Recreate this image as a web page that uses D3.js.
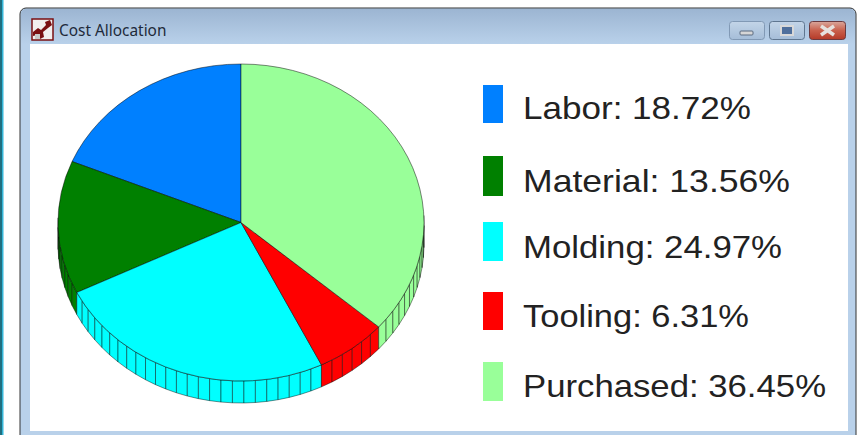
<!DOCTYPE html>
<html>
<head>
<meta charset="utf-8">
<script src="https://cdn.jsdelivr.net/npm/d3@7"></script>
<style>
html, body { margin: 0; padding: 0; background: #fff; overflow: hidden; }
svg { display: block; }
</style>
</head>
<body>
<svg></svg>
<script>
var w = 858;
var h = 435;

var svg = d3.select("svg")
            .attr("width", w)
            .attr("height", h);

// chart data
var categories = ["Labor", "Material", "Molding", "Tooling", "Purchased"];
var shares = [18.72, 13.56, 24.97, 6.31, 36.45];
var sliceColors = ["#0080ff", "#008000", "#00ffff", "#ff0000", "#99ff99"];
var windowTitle = "Cost Allocation";

// the legend rows are not evenly spaced in the original
var legendTop = [85, 156, 222, 292, 362];
var legendBottom = [123, 196, 261, 330, 401];
var legendBaseline = [119, 192, 258, 327, 397];
// text in the original is stretched a bit wider than Liberation Sans
var legendTextWidth = [228, 267, 259, 226, 303];

// ---- window frame ----
var defs = svg.append("defs");
var titleGrad = defs.append("linearGradient")
    .attr("id", "title-gradient")
    .attr("x1", "0%").attr("y1", "0%")
    .attr("x2", "0%").attr("y2", "100%");
titleGrad.append("stop").attr("offset", "0%").attr("stop-color", "#9cb5d2");
titleGrad.append("stop").attr("offset", "100%").attr("stop-color", "#b9d1ea");

var closeGrad = defs.append("linearGradient")
    .attr("id", "close-gradient")
    .attr("x1", "0%").attr("y1", "0%")
    .attr("x2", "0%").attr("y2", "100%");
closeGrad.append("stop").attr("offset", "0%").attr("stop-color", "#d9a79c");
closeGrad.append("stop").attr("offset", "50%").attr("stop-color", "#c9604c");
closeGrad.append("stop").attr("offset", "100%").attr("stop-color", "#b53a28");

var btnGrad = defs.append("linearGradient")
    .attr("id", "btn-gradient")
    .attr("x1", "0%").attr("y1", "0%")
    .attr("x2", "0%").attr("y2", "100%");
btnGrad.append("stop").attr("offset", "0%").attr("stop-color", "#c3d5e8");
btnGrad.append("stop").attr("offset", "100%").attr("stop-color", "#a5bdd8");

// bit of the desktop left of the window
svg.append("rect").attr("x", 0).attr("y", 0).attr("width", 2).attr("height", h).attr("fill", "#1f6f80");
svg.append("rect").attr("x", 2).attr("y", 0).attr("width", 1.5).attr("height", h).attr("fill", "#35b6d8");

svg.append("rect")
    .attr("x", 20).attr("y", 8)
    .attr("width", 836).attr("height", 440)
    .attr("rx", 6)
    .attr("fill", "#b9d1ea")
    .attr("stroke", "#333")
    .attr("stroke-width", 1);
svg.append("path")
    .attr("d", "M21,14 Q21,9 26,9 H850 Q855,9 855,14 V44 H21 Z")
    .attr("fill", "url(#title-gradient)");
svg.append("rect")
    .attr("x", 30).attr("y", 44)
    .attr("width", 818).attr("height", 387)
    .attr("fill", "#fff");

// app icon
var icon = svg.append("g").attr("transform", "translate(32,19)");
icon.append("rect").attr("width", 21).attr("height", 21).attr("fill", "#f2eeee").attr("stroke", "#7a0f12").attr("stroke-width", 1.5);
icon.append("path")
    .attr("d", "M1,13 L6,9 L9,11 L14,6 L13,3 L18,1 L20,6 L16,9 L11,13 L12,18 L8,20 L5,16 L1,17 Z")
    .attr("fill", "#7a0f12");
icon.append("rect").attr("x", 3).attr("y", 15).attr("width", 5).attr("height", 5).attr("fill", "#c9c9c9");

svg.append("text")
    .attr("x", 59).attr("y", 36)
    .attr("font-family", "'Noto Sans', 'Open Sans', sans-serif")
    .attr("font-size", 15.4)
    .attr("fill", "#1e2a3a")
    .text(windowTitle);

// window buttons
var buttons = svg.append("g");
buttons.append("rect").attr("x", 729.5).attr("y", 21.5).attr("width", 35).attr("height", 18).attr("rx", 3)
    .attr("fill", "url(#btn-gradient)").attr("stroke", "#8199b5");
buttons.append("rect").attr("x", 740).attr("y", 31).attr("width", 13).attr("height", 4).attr("rx", 1)
    .attr("fill", "#d6d6d6").attr("stroke", "#5a6b80");
buttons.append("rect").attr("x", 769.5).attr("y", 21.5).attr("width", 35).attr("height", 18).attr("rx", 3)
    .attr("fill", "url(#btn-gradient)").attr("stroke", "#5f7690");
buttons.append("rect").attr("x", 781).attr("y", 26).attr("width", 12).attr("height", 9)
    .attr("fill", "#4f6f9c").attr("stroke", "#d8d8d8").attr("stroke-width", 2);
buttons.append("rect").attr("x", 809.5).attr("y", 21.5).attr("width", 36).attr("height", 18).attr("rx", 3)
    .attr("fill", "url(#close-gradient)").attr("stroke", "#6b3a3f");
buttons.append("path").attr("d", "M821,26 L834,35 M834,26 L821,35")
    .attr("stroke", "#e6e1de").attr("stroke-width", 3.5).attr("fill", "none");

// ---- pie ----
var cx = 241;
var cy = 222.5;
var rx = 183;
var ry = 158.5;
var depth = 22;

var pie = d3.pie()
    .sort(null)
    .startAngle(0)
    .endAngle(-2 * Math.PI)
    .value(function(d){ return d; });
var slices = pie(shares);

// angle is clockwise from the top, same as d3.arc
function px(a){ return cx + rx * Math.sin(a); }
function py(a){ return cy - ry * Math.cos(a); }

// side wall, one facet per percent of the circle
var step = 2 * Math.PI / 100;
var facets = [];
slices.forEach(function(s, i){
    var n = Math.max(1, Math.round(Math.abs(s.endAngle - s.startAngle) / step));
    var da = (s.endAngle - s.startAngle) / n;
    d3.range(n).forEach(function(k){
        var a0 = s.startAngle + k * da;
        var a1 = a0 + da;
        // only the front half of the rim shows
        if (Math.cos(a0) < 0.02 || Math.cos(a1) < 0.02) {
            facets.push({a0: a0, a1: a1, color: sliceColors[i]});
        }
    });
});

var side = svg.append("g");
side.selectAll("path")
    .data(facets)
    .join("path")
    .attr("d", function(d){
        return "M" + px(d.a0) + "," + py(d.a0)
             + "L" + px(d.a1) + "," + py(d.a1)
             + "L" + px(d.a1) + "," + (py(d.a1) + depth)
             + "L" + px(d.a0) + "," + (py(d.a0) + depth) + "Z";
    })
    .attr("fill", function(d){ return d.color; })
    .attr("stroke", "#000")
    .attr("stroke-opacity", 0.55)
    .attr("stroke-width", 0.8);

var arc = d3.arc().innerRadius(0).outerRadius(rx);
svg.append("g")
    .attr("transform", "translate(" + cx + "," + cy + ") scale(1," + (ry / rx) + ")")
    .selectAll("path")
    .data(slices)
    .join("path")
    .attr("d", arc)
    .attr("fill", function(d, i){ return sliceColors[i]; })
    .attr("stroke", "#000")
    .attr("stroke-opacity", 0.6)
    .attr("stroke-width", 0.8)
    .attr("vector-effect", "non-scaling-stroke");

// ---- legend ----
var legend = svg.append("g");
legend.selectAll("rect")
    .data(categories)
    .join("rect")
    .attr("x", 483)
    .attr("y", function(d, i){ return legendTop[i]; })
    .attr("width", 20)
    .attr("height", function(d, i){ return legendBottom[i] - legendTop[i]; })
    .attr("fill", function(d, i){ return sliceColors[i]; });

legend.selectAll("text")
    .data(categories)
    .join("text")
    .attr("x", 523)
    .attr("y", function(d, i){ return legendBaseline[i]; })
    .attr("font-family", "'Liberation Sans', Arial, sans-serif")
    .attr("font-size", 32)
    .attr("fill", "#222")
    .attr("textLength", function(d, i){ return legendTextWidth[i]; })
    .attr("lengthAdjust", "spacingAndGlyphs")
    .text(function(d, i){ return d + ": " + shares[i].toFixed(2) + "%"; });
</script>
</body>
</html>
